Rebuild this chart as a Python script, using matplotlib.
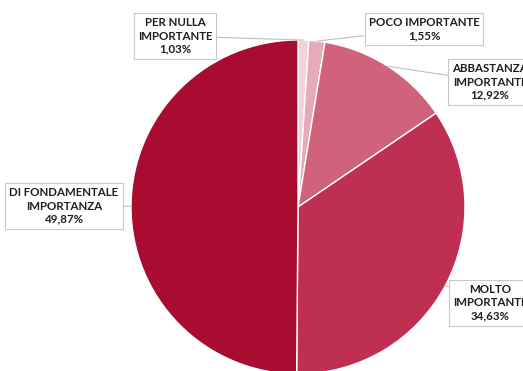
import numpy as np
import matplotlib.pyplot as plt

labels = ['PER NULLA\nIMPORTANTE', 'POCO IMPORTANTE', 'ABBASTANZA\nIMPORTANTE',
          'MOLTO\nIMPORTANTE', 'DI FONDAMENTALE\nIMPORTANZA']
values = [1.03, 1.55, 12.92, 34.63, 49.87]
pct_text = ['1,03%', '1,55%', '12,92%', '34,63%', '49,87%']
colors = ['#f3d2d9', '#e8aab9', '#d0627c', '#bf2f52', '#a80c2f']

# label box centres (pixel coords, y from bottom)
box_pos = [(175, 335), (424, 342), (490, 289), (490, 68), (64, 165)]

W, H = 523, 371
fig = plt.figure(figsize=(W / 100, H / 100), dpi=100)
ax = fig.add_axes([0, 0, 1, 1])

cx, cy, r = 298, 164, 167
wedges, _ = ax.pie(values, colors=colors, startangle=90, counterclock=False,
                   center=(cx, cy), radius=r, frame=True,
                   wedgeprops=dict(edgecolor='white', linewidth=1))
ax.set_xlim(0, W)
ax.set_ylim(0, H)
ax.set_aspect('equal')
ax.axis('off')

for w, lab, pct, pos in zip(wedges, labels, pct_text, box_pos):
    ang = np.deg2rad((w.theta1 + w.theta2) / 2)
    px = cx + r * np.cos(ang)
    py = cy + r * np.sin(ang)
    ax.annotate(lab + '\n' + pct, xy=(px, py), xytext=pos,
                ha='center', va='center', fontsize=8.3, fontweight='bold',
                family='Lato', color='#1e1e1e', linespacing=1.25,
                bbox=dict(boxstyle='square,pad=0.35', fc='white', ec='#c8c8c8', lw=0.8),
                arrowprops=dict(arrowstyle='-', color='#bfbfbf', lw=0.8,
                                shrinkA=0, shrinkB=0),
                annotation_clip=False)

fig.savefig('out.png', dpi=100)
